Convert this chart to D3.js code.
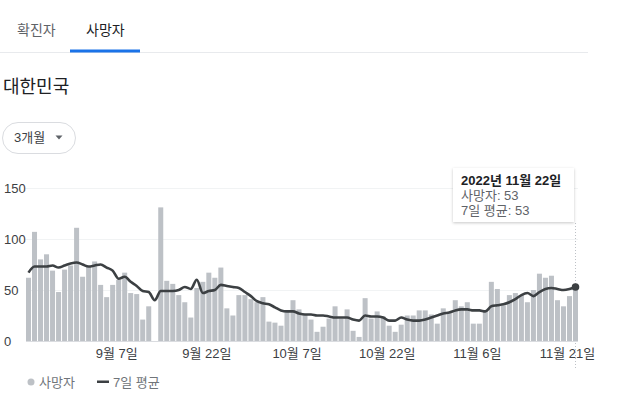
<!DOCTYPE html>
<html><head><meta charset="utf-8">
<script src="https://cdn.jsdelivr.net/npm/d3@7"></script>
<style>
html,body{margin:0;padding:0;background:#fff;}
svg{display:block;font-family:"Liberation Sans",Arial,"Noto Sans CJK KR",sans-serif;}
</style></head>
<body>
<svg id="c" width="627" height="397"></svg>
<script>
// data
const startDate = "2022-08-23";
const deaths = [62,107,80,85,69,48,70,74,111,63,73,78,55,43,55,60,67,47,46,21,34,0,131,59,56,45,38,23,52,58,67,62,72,32,25,45,45,41,38,43,19,18,15,29,40,31,26,21,9,14,22,34,22,31,10,4,42,22,29,24,15,9,16,25,25,30,30,26,17,32,27,40,34,38,17,17,29,58,51,35,45,47,45,38,50,66,62,64,40,34,44,53];
const avg7 = [67,73,73,73,74,72,74,76,77,75,73,74,75,72,69,61,63,58,54,49,48,40,49,49,49,50,53,51,60,47,49,50,55,54,53,52,48,44,39,37,36,33,30,29,29,27,26,26,25,25,24,23,23,23,21,20,25,24,24,23,20,20,23,21,20,20,21,23,25,27,28,30,31,31,30,30,29,34,35,36,38,41,45,47,44,48,51,52,51,50,51,53];
const yTicks = [0,50,100,150];
const xTickDates = ["2022-09-07","2022-09-22","2022-10-07","2022-10-22","2022-11-06","2022-11-21"];
const xTickLabels = ["9월 7일","9월 22일","10월 7일","10월 22일","11월 6일","11월 21일"];
const tabs = ["확진자","사망자"];

const parse = d3.timeParse("%Y-%m-%d");
const fmt = d3.timeFormat("%Y-%m-%d");
const s = parse(startDate);
const dates = deaths.map((_, i) => fmt(d3.timeDay.offset(s, i)));

const svg = d3.select("#c");

// tabs
svg.append("line").attr("x1",0).attr("x2",588).attr("y1",52.5).attr("y2",52.5).attr("stroke","#e8eaed").attr("stroke-width",1);
svg.append("text").attr("x",17).attr("y",35).attr("font-size",14).attr("fill","#5f6368").text(tabs[0]);
svg.append("text").attr("x",86).attr("y",35).attr("font-size",14).attr("fill","#202124").text(tabs[1]);
svg.append("rect").attr("x",70).attr("y",49.5).attr("width",70).attr("height",3).attr("fill","#1a73e8");

// title
svg.append("text").attr("x",3).attr("y",93).attr("font-size",18).attr("fill","#202124").text("대한민국");

// dropdown
svg.append("rect").attr("x",2.5).attr("y",122.5).attr("width",73).attr("height",31).attr("rx",15.5).attr("fill","#fff").attr("stroke","#dadce0");
svg.append("text").attr("x",14).attr("y",142).attr("font-size",13).attr("fill","#3c4043").text("3개월");
svg.append("path").attr("d","M55.5,135.5 L62.5,135.5 L59,139.5 Z").attr("fill","#5f6368");

// scales
const x = d3.scaleBand().domain(dates).range([26, 26 + 6*dates.length]).paddingInner(1/6).paddingOuter(0);
const y = d3.scaleLinear().domain([0,150]).range([341,188]);

// grid
svg.append("g").selectAll("line").data(yTicks).join("line")
  .attr("x1",26).attr("x2",578).attr("y1",d=>y(d)+0.5).attr("y2",d=>y(d)+0.5)
  .attr("stroke",d=>d===0?"#dadce0":"#f1f3f4");

// y labels
const yAxis = d3.axisLeft(y).tickValues(yTicks).tickSize(0).tickFormat(d3.format("d"));
const ya = svg.append("g").attr("transform","translate(4,0)").call(yAxis);
ya.select(".domain").remove();
ya.selectAll("text").attr("text-anchor","start").attr("x",0).attr("dy","0.35em")
  .attr("font-size",13).attr("font-family","Liberation Sans, Arial, sans-serif").attr("fill","#3c4043");

// bars
svg.append("g").selectAll("rect").data(deaths).join("rect")
  .attr("x",(d,i)=>x(dates[i])).attr("width",x.bandwidth())
  .attr("y",d=>y(d)).attr("height",d=>y(0)-y(d)).attr("fill","#bdc1c6");

// line
const line = d3.line().x((d,i)=>x(dates[i])+x.bandwidth()/2).y(d=>y(d)).curve(d3.curveMonotoneX);
svg.append("path").datum(avg7).attr("d",line).attr("fill","none").attr("stroke","#3c4043").attr("stroke-width",2.6).attr("stroke-linejoin","round");

// x axis labels
const xAxis = d3.axisBottom(x).tickValues(xTickDates).tickSize(0).tickFormat((d)=>xTickLabels[xTickDates.indexOf(d)]);
const xa = svg.append("g").attr("transform","translate(-2,346)").call(xAxis);
xa.select(".domain").remove();
xa.selectAll("text").attr("font-size",13).attr("fill","#3c4043").attr("dy","0.71em")
  .attr("font-family","Liberation Sans, Arial, Noto Sans CJK KR, sans-serif");

// hover indicator
const last = dates.length-1;
const lx = x(dates[last]) + x.bandwidth()/2;
svg.append("line").attr("x1",Math.round(lx)+0.5).attr("x2",Math.round(lx)+0.5).attr("y1",223).attr("y2",369)
  .attr("stroke","#bdc1c6").attr("stroke-dasharray","1,2");
svg.append("circle").attr("cx",lx).attr("cy",y(avg7[last])).attr("r",3.8).attr("fill","#3c4043");

// tooltip
const defs = svg.append("defs");
const f = defs.append("filter").attr("id","sh").attr("x","-20%").attr("y","-20%").attr("width","140%").attr("height","150%");
f.append("feDropShadow").attr("dx",0).attr("dy",1).attr("stdDeviation",1.5).attr("flood-color","#000").attr("flood-opacity",0.22);
const tt = svg.append("g");
tt.append("rect").attr("x",453).attr("y",168).attr("width",121).attr("height",54).attr("fill","#fff").attr("filter","url(#sh)");
tt.append("text").attr("x",461).attr("y",185).attr("font-size",13).attr("font-weight","bold").attr("fill","#202124").text("2022년 11월 22일");
tt.append("text").attr("x",461).attr("y",200).attr("font-size",13).attr("fill","#5f6368").text("사망자: " + deaths[last]);
tt.append("text").attr("x",461).attr("y",215).attr("font-size",13).attr("fill","#5f6368").text("7일 평균: " + avg7[last]);

// legend
svg.append("circle").attr("cx",31).attr("cy",382).attr("r",3.5).attr("fill","#bdc1c6");
svg.append("text").attr("x",39).attr("y",387).attr("font-size",13).attr("fill","#70757a").text("사망자");
svg.append("rect").attr("x",97).attr("y",380.5).attr("width",12).attr("height",2.5).attr("fill","#3c4043");
svg.append("text").attr("x",113).attr("y",387).attr("font-size",13).attr("fill","#70757a").text("7일 평균");
</script>
</body></html>
